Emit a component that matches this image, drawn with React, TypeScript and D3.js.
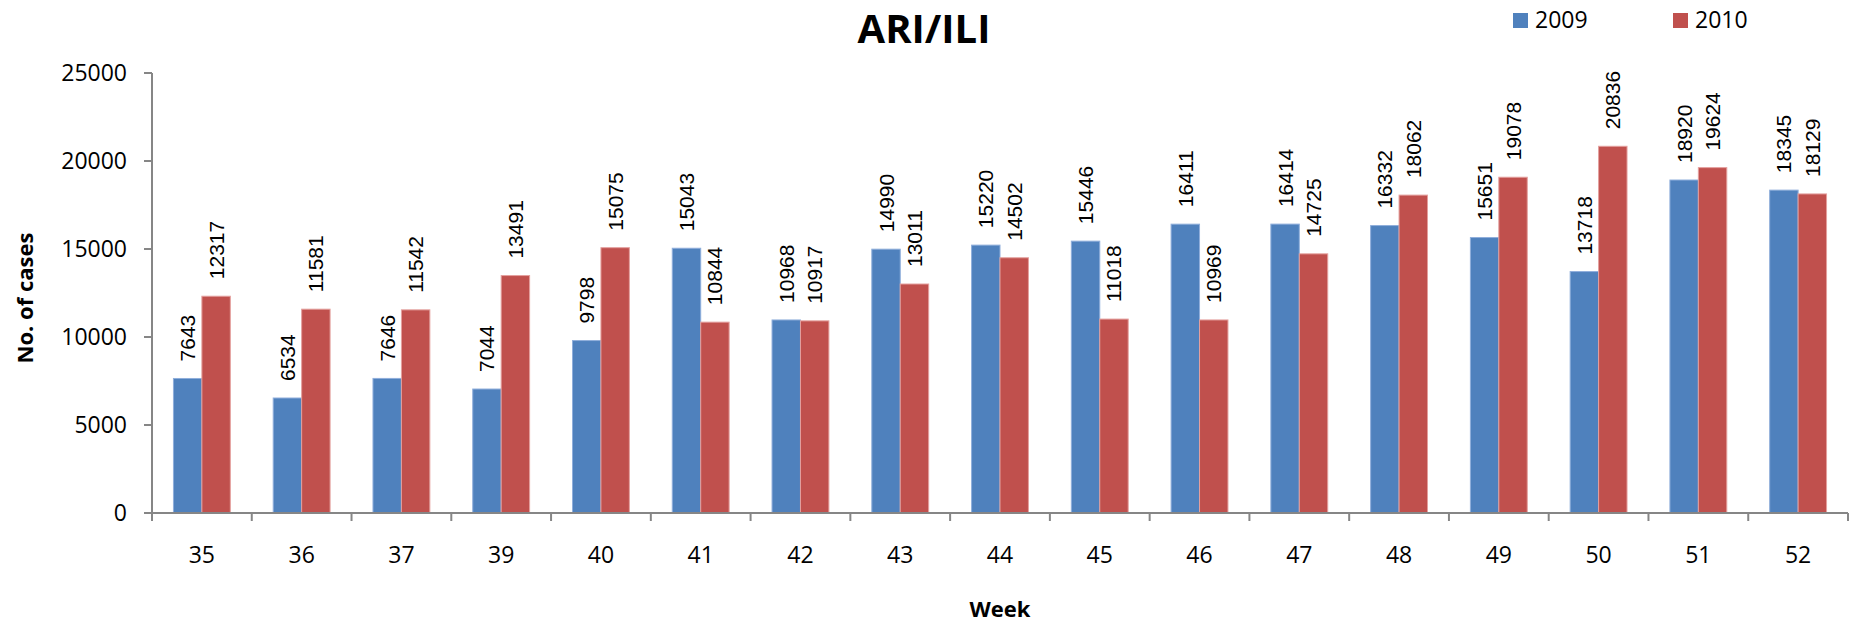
import React from "react";
import * as d3 from "d3";

const weeks = ["35", "36", "37", "39", "40", "41", "42", "43", "44", "45", "46", "47", "48", "49", "50", "51", "52"];
const cases2009 = [7643, 6534, 7646, 7044, 9798, 15043, 10968, 14990, 15220, 15446, 16411, 16414, 16332, 15651, 13718, 18920, 18345];
const cases2010 = [12317, 11581, 11542, 13491, 15075, 10844, 10917, 13011, 14502, 11018, 10969, 14725, 18062, 19078, 20836, 19624, 18129];
const yTicks = [0, 5000, 10000, 15000, 20000, 25000];
const seriesNames = ["2009", "2010"];
const seriesColors = ["#4F81BD", "#C0504D"];
const seriesStroke = ["#8FAEDB", "#E4A09E"];

const W = 1860;
const H = 623;
const left = 152;
const right = 1848;
const top = 73;
const bottom = 513;

export default function App() {
  const x = d3.scaleBand<string>().domain(weeks).range([left, right]).paddingInner(0).paddingOuter(0);
  const y = d3.scaleLinear().domain([0, 25000]).range([bottom, top]);
  const groupW = x.bandwidth() * 0.57;
  const sub = d3.scaleBand<string>().domain(seriesNames).range([(x.bandwidth() - groupW) / 2, (x.bandwidth() + groupW) / 2]);
  const data = [cases2009, cases2010];
  const axisColor = "#868686";
  const font = "'Open Sans', sans-serif";
  const labelFont = "'Liberation Sans', Arial, sans-serif";
  const legendX = [1513, 1673];

  return (
    <svg width={W} height={H} style={{ position: "absolute", left: 0, top: 0, background: "#fff" }}>
      <rect x={0} y={0} width={W} height={H} fill="#fff" />
      {weeks.map((w, i) => (
        <g key={w}>
          {seriesNames.map((s, k) => {
            const v = data[k][i];
            const bx = (x(w) as number) + (sub(s) as number);
            const by = y(v);
            const bw = sub.bandwidth();
            return (
              <g key={s}>
                <rect x={bx} y={by} width={bw} height={bottom - by} fill={seriesColors[k]} stroke={seriesStroke[k]} strokeWidth={1} />
                <text
                  transform={`translate(${bx + bw / 2 + 7.5},${by - 17}) rotate(-90)`}
                  fontFamily={labelFont}
                  fontSize={21}
                  fill="#000"
                >
                  {v}
                </text>
              </g>
            );
          })}
        </g>
      ))}
      <line x1={left} x2={left} y1={top} y2={bottom} stroke={axisColor} strokeWidth={2} />
      {yTicks.map((t) => (
        <g key={t}>
          <line x1={left - 8} x2={left} y1={y(t)} y2={y(t)} stroke={axisColor} strokeWidth={2} />
          <text x={127} y={y(t)} dy="0.35em" textAnchor="end" fontFamily={font} fontSize={23} fill="#000">
            {t}
          </text>
        </g>
      ))}
      <line x1={left} x2={right} y1={bottom} y2={bottom} stroke={axisColor} strokeWidth={2} />
      {[...weeks.map((w) => x(w) as number), right].map((px, i) => (
        <line key={i} x1={px} x2={px} y1={bottom} y2={bottom + 8} stroke={axisColor} strokeWidth={2} />
      ))}
      {weeks.map((w) => (
        <text key={w} x={(x(w) as number) + x.bandwidth() / 2} y={563} textAnchor="middle" fontFamily={font} fontSize={23} fill="#000">
          {w}
        </text>
      ))}
      <text x={924} y={43} textAnchor="middle" fontFamily={font} fontWeight="bold" fontSize={40} fill="#000">
        ARI/ILI
      </text>
      <text x={(left + right) / 2} y={617} textAnchor="middle" fontFamily={font} fontWeight="bold" fontSize={22} fill="#000">
        Week
      </text>
      <text transform={`translate(33,298) rotate(-90)`} textAnchor="middle" fontFamily={font} fontWeight="bold" fontSize={22} fill="#000">
        No. of cases
      </text>
      {seriesNames.map((s, k) => {
        const lx = legendX[k];
        return (
          <g key={s}>
            <rect x={lx} y={13} width={15} height={15} fill={seriesColors[k]} />
            <text x={lx + 22} y={28} fontFamily={font} fontSize={23} fill="#000">
              {s}
            </text>
          </g>
        );
      })}
    </svg>
  );
}
